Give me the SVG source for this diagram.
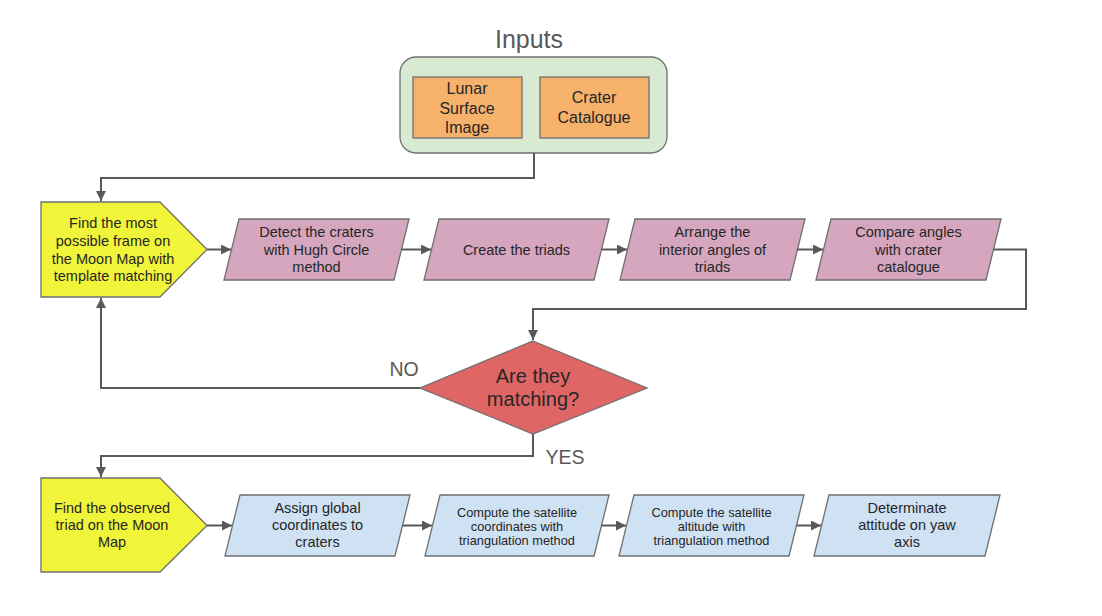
<svg xmlns="http://www.w3.org/2000/svg" width="1102" height="616" viewBox="0 0 1102 616">
<defs>
<marker id="ah" viewBox="0 0 10 10" refX="10" refY="5" markerWidth="10" markerHeight="10" markerUnits="userSpaceOnUse" orient="auto">
<path d="M0,0 L10,5 L0,10 Z" fill="#595959"/>
</marker>
<style>
text{font-family:"Liberation Sans",Arial,sans-serif;text-anchor:middle;fill:#262626}
.t{font-size:14.5px}
.s{font-size:12.8px}
.shape{stroke:#6f6f6f;stroke-width:1.3}
.pink{fill:#d5a6bd}
.blue{fill:#cfe2f3}
.yel{fill:#f1f53a}
.conn path{fill:none;stroke:#595959;stroke-width:2}
.lbl{fill:#595959;font-size:19.5px}
</style>
</defs>
<rect width="1102" height="616" fill="#ffffff"/>

<g id="inputs">
<text x="529" y="48" style="font-size:25px;fill:#595959">Inputs</text>
<rect class="shape" x="400" y="57" width="267" height="96" rx="16" fill="#d9ead3"/>
</g>
<g id="lunar">
<rect class="shape" x="413" y="77" width="109" height="61" fill="#f6b26b"/>
<text x="467" y="94" style="font-size:16px">Lunar</text>
<text x="467" y="114" style="font-size:16px">Surface</text>
<text x="467" y="133" style="font-size:16px">Image</text>
</g>
<g id="catalogue">
<rect class="shape" x="540" y="77" width="109" height="61" fill="#f6b26b"/>
<text x="594" y="103" style="font-size:16px">Crater</text>
<text x="594" y="123" style="font-size:16px">Catalogue</text>
</g>

<g id="find-frame">
<polygon class="shape yel" points="41,202 160,202 207,249.5 160,297 41,297"/>
<text class="t" x="113" y="228">Find the most</text>
<text class="t" x="113" y="246">possible frame on</text>
<text class="t" x="113" y="263.5">the Moon Map with</text>
<text class="t" x="113" y="281">template matching</text>
</g>
<g id="detect">
<polygon class="shape pink" points="239,219 409,219 394,280 224,280"/>
<text class="t" x="316.5" y="237">Detect the craters</text>
<text class="t" x="316.5" y="255">with Hugh Circle</text>
<text class="t" x="316.5" y="272">method</text>
</g>
<g id="create">
<polygon class="shape pink" points="439,219 609,219 594,280 424,280"/>
<text class="t" x="516.5" y="255">Create the triads</text>
</g>
<g id="arrange">
<polygon class="shape pink" points="635,219 805,219 790,280 620,280"/>
<text class="t" x="712.5" y="237">Arrange the</text>
<text class="t" x="712.5" y="255">interior angles of</text>
<text class="t" x="712.5" y="272">triads</text>
</g>
<g id="compare">
<polygon class="shape pink" points="831,219 1001,219 986,280 816,280"/>
<text class="t" x="908.5" y="237">Compare angles</text>
<text class="t" x="908.5" y="255">with crater</text>
<text class="t" x="908.5" y="272">catalogue</text>
</g>

<g id="decision">
<polygon class="shape" points="533,341 647,388 533,434 420,388" fill="#e06666"/>
<text x="533" y="383" style="font-size:20px">Are they</text>
<text x="533" y="406" style="font-size:20px">matching?</text>
</g>

<g id="find-triad">
<polygon class="shape yel" points="41,478 160,478 207,525.5 160,572 41,572"/>
<text class="t" x="112" y="513">Find the observed</text>
<text class="t" x="112" y="530">triad on the Moon</text>
<text class="t" x="112" y="547">Map</text>
</g>
<g id="assign">
<polygon class="shape blue" points="240,495 410,495 395,556 225,556"/>
<text class="t" x="317.5" y="513">Assign global</text>
<text class="t" x="317.5" y="530">coordinates to</text>
<text class="t" x="317.5" y="547">craters</text>
</g>
<g id="compute-coords">
<polygon class="shape blue" points="440,495 609,495 594,556 425,556"/>
<text class="s" x="517" y="517">Compute the satellite</text>
<text class="s" x="517" y="531">coordinates with</text>
<text class="s" x="517" y="545">triangulation method</text>
</g>
<g id="compute-altitude">
<polygon class="shape blue" points="634,495 804,495 789,556 619,556"/>
<text class="s" x="711.5" y="517">Compute the satellite</text>
<text class="s" x="711.5" y="531">altitude with</text>
<text class="s" x="711.5" y="545">triangulation method</text>
</g>
<g id="determinate">
<polygon class="shape blue" points="829,495 1000,495 985,556 814,556"/>
<text class="t" x="907" y="513">Determinate</text>
<text class="t" x="907" y="530">attitude on yaw</text>
<text class="t" x="907" y="547">axis</text>
</g>

<g id="connectors" class="conn">
<path d="M534,153 V178 H101 V201" marker-end="url(#ah)"/>
<path d="M207,249.5 H231" marker-end="url(#ah)"/>
<path d="M401.5,249.5 H431" marker-end="url(#ah)"/>
<path d="M601.5,249.5 H627" marker-end="url(#ah)"/>
<path d="M797.5,249.5 H823" marker-end="url(#ah)"/>
<path d="M993.5,249.5 H1026 V309 H533 V340" marker-end="url(#ah)"/>
<path d="M420,388 H101 V298" marker-end="url(#ah)"/>
<path d="M533,434 V456 H101 V477" marker-end="url(#ah)"/>
<path d="M207,525.5 H232" marker-end="url(#ah)"/>
<path d="M402.5,525.5 H432" marker-end="url(#ah)"/>
<path d="M601.5,525.5 H626" marker-end="url(#ah)"/>
<path d="M796.5,525.5 H821" marker-end="url(#ah)"/>
<text class="lbl" x="404" y="376">NO</text>
<text class="lbl" x="565" y="464">YES</text>
</g>
</svg>
